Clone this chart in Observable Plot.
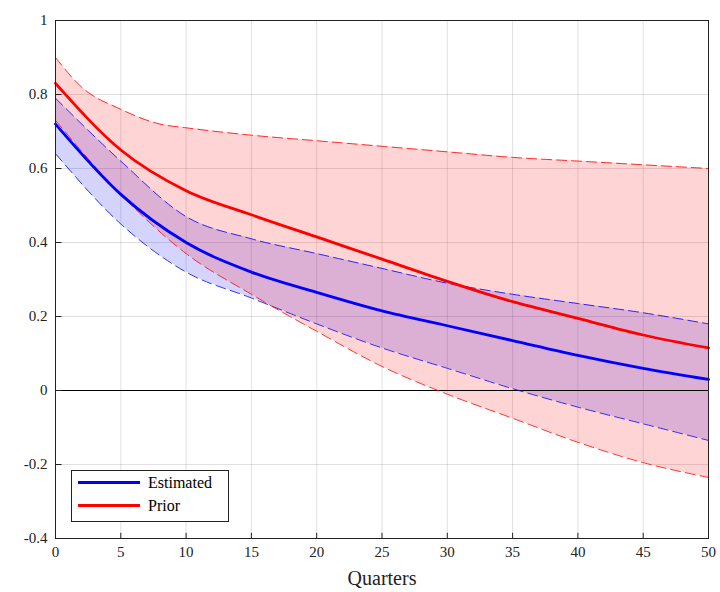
<!DOCTYPE html>
<html><head><meta charset="utf-8">
<script src="https://cdn.jsdelivr.net/npm/d3@7"></script>
<script src="https://cdn.jsdelivr.net/npm/@observablehq/plot@0.6"></script>
<style>
body{margin:0;background:#fff;font-family:"Liberation Serif",serif;}
#wrap{position:relative;width:720px;height:592px;}
#legend{position:absolute;left:71px;top:470px;width:156px;height:50px;border:1px solid #222;background:#fff;font-size:16px;}
#legend div{display:flex;align-items:center;height:23px;padding-left:6px;}
#legend span{display:inline-block;width:62px;height:3px;margin-right:8px;}
</style></head><body>
<div id="wrap"><div id="chart"></div>
<div id="legend"><div><span style="background:#00f"></span>Estimated</div><div><span style="background:#f00"></span>Prior</div></div></div>
<script>
const xs = [0,5,10,15,20,25,30,35,40,45,50];
const estMean = [0.72,0.53,0.40,0.32,0.265,0.215,0.175,0.135,0.095,0.06,0.03];
const estUp = [0.79,0.62,0.47,0.41,0.37,0.33,0.29,0.26,0.235,0.21,0.18];
const estLo = [0.64,0.45,0.32,0.25,0.18,0.115,0.06,0.005,-0.045,-0.09,-0.135];
const priMean = [0.83,0.65,0.54,0.475,0.415,0.355,0.295,0.24,0.195,0.15,0.115];
const priLo = [0.73,0.53,0.37,0.26,0.16,0.065,-0.01,-0.075,-0.14,-0.195,-0.235];
const priUpX = [0,2,5,8,10,15,20,25,30,35,40,45,50];
const priUp = [0.90,0.82,0.76,0.72,0.71,0.69,0.675,0.66,0.645,0.63,0.62,0.61,0.60];
const yTicks = [-0.4,-0.2,0,0.2,0.4,0.6,0.8,1];
const xTicks = d3.range(0,51,5);

const est = xs.map((x,i)=>({x,m:estMean[i],u:estUp[i],l:estLo[i]}));
const pri = xs.map((x,i)=>({x,m:priMean[i],l:priLo[i]}));
const priU = priUpX.map((x,i)=>({x,u:priUp[i]}));
const c="monotone-x";
const priorBand = (index, scales) => {
  const sx = scales.x, sy = scales.y;
  const up = d3.line().curve(d3.curveMonotoneX).x(d=>sx(d.x)).y(d=>sy(d.u))(priU);
  const lo = d3.line().curve(d3.curveMonotoneX).x(d=>sx(d.x)).y(d=>sy(d.l))(pri.slice().reverse());
  const p = document.createElementNS("http://www.w3.org/2000/svg","path");
  p.setAttribute("d", up + "L" + lo.slice(1) + "Z");
  p.setAttribute("fill","#f00"); p.setAttribute("fill-opacity","0.17");
  return p;
};
const plot = Plot.plot({
  width:720,height:592,marginLeft:55,marginRight:12,marginTop:20,marginBottom:54,
  style:{fontFamily:"Liberation Serif, serif",fontSize:"15px",color:"#222"},
  x:{type:"linear",domain:[0,50],ticks:xTicks,label:null,tickSize:0,tickPadding:8},
  y:{type:"linear",domain:[-0.4,1],ticks:yTicks,label:null,tickSize:0,tickPadding:8,tickFormat:d=>d===0?"0":String(d)},
  marks:[
    Plot.gridX(xTicks,{stroke:"#000",strokeOpacity:0.12}),
    Plot.gridY(yTicks,{stroke:"#000",strokeOpacity:0.12}),
    Plot.areaY(est,{x:"x",y1:"l",y2:"u",fill:"#00f",fillOpacity:0.17,curve:c}),
    priorBand,
    Plot.ruleY([0],{stroke:"#000",strokeWidth:1}),
    Plot.line(est,{x:"x",y:"u",stroke:"#00f",strokeDasharray:"10,5",strokeWidth:0.8,curve:c}),
    Plot.line(est,{x:"x",y:"l",stroke:"#00f",strokeDasharray:"10,5",strokeWidth:0.8,curve:c}),
    Plot.line(priU,{x:"x",y:"u",stroke:"#f00",strokeDasharray:"10,5",strokeWidth:0.8,curve:c}),
    Plot.line(pri,{x:"x",y:"l",stroke:"#f00",strokeDasharray:"10,5",strokeWidth:0.8,curve:c}),
    Plot.line(est,{x:"x",y:"m",stroke:"#00f",strokeWidth:2.8,curve:c}),
    Plot.line(pri,{x:"x",y:"m",stroke:"#f00",strokeWidth:2.8,curve:c}),
    Plot.ruleX(xTicks,{y1:-0.4,y2:-0.386,stroke:"#222"}),
    Plot.ruleY(yTicks,{x1:0,x2:0.5,stroke:"#222"}),
    Plot.frame({stroke:"#222"}),
    Plot.text(["Quarters"],{frameAnchor:"bottom",dy:46,fontSize:20,fill:"#222"})
  ]
});
document.getElementById("chart").appendChild(plot);
</script></body></html>
